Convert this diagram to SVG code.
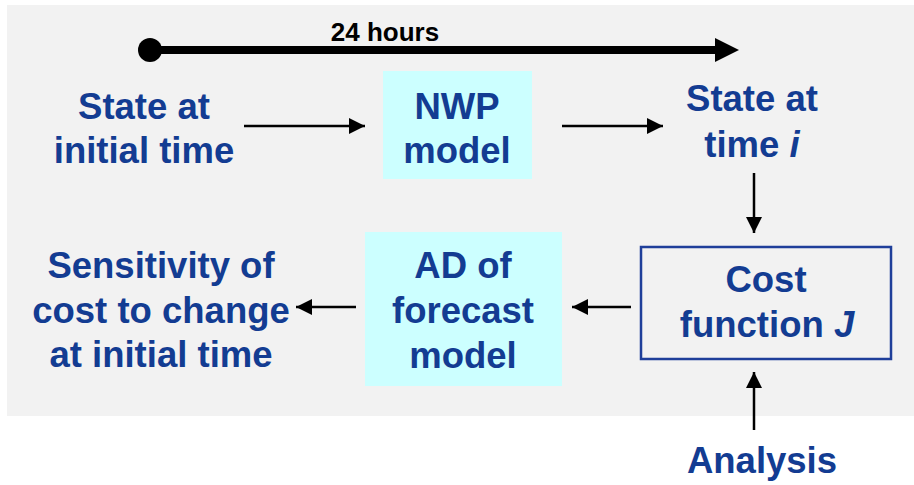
<svg xmlns="http://www.w3.org/2000/svg" width="914" height="485" viewBox="0 0 914 485">
  <defs>
    <style>
      .t { font-family: "Liberation Sans", Arial, sans-serif; font-weight: bold; font-size: 36.5px; fill: #133C92; text-anchor: middle; }
      .box { fill: #CCFFFF; stroke: none; }
      .cost { fill: none; stroke: #1F3F9A; stroke-width: 2.5; }
      .conn { stroke: #000; stroke-width: 2.5; fill: none; }
    </style>
    <marker id="ah" viewBox="0 0 16 16" refX="16" refY="8" markerUnits="userSpaceOnUse" markerWidth="16" markerHeight="16" orient="auto">
      <path d="M0,0 L16,8 L0,16 Z" fill="#000"/>
    </marker>
  </defs>

  <rect x="7" y="5" width="907" height="411" fill="#F2F2F2"/>

  <g id="timeline">
    <circle cx="150" cy="50" r="12" fill="#000"/>
    <line x1="150" y1="50" x2="716" y2="50" stroke="#000" stroke-width="8"/>
    <polygon points="715,38 739,50 715,62" fill="#000"/>
    <text x="385" y="41" font-family="Liberation Sans, Arial, sans-serif" font-weight="bold" font-size="26" fill="#000" text-anchor="middle">24 hours</text>
  </g>

  <g id="state-initial">
    <text class="t" x="144" y="119">State at</text>
    <text class="t" x="144" y="163">initial time</text>
  </g>

  <g id="nwp-model">
    <rect class="box" x="383" y="71" width="149" height="108"/>
    <text class="t" x="457" y="119">NWP</text>
    <text class="t" x="457" y="163">model</text>
  </g>

  <g id="state-time-i">
    <text class="t" x="752" y="111">State at</text>
    <text class="t" x="752" y="157">time <tspan font-style="italic">i</tspan></text>
  </g>

  <g id="cost-function">
    <rect class="cost" x="641" y="247" width="250" height="112"/>
    <text class="t" x="766" y="292">Cost</text>
    <text class="t" x="767" y="337">function <tspan font-style="italic">J</tspan></text>
  </g>

  <g id="ad-model">
    <rect class="box" x="365" y="232" width="197" height="154"/>
    <text class="t" x="463" y="278">AD of</text>
    <text class="t" x="463" y="323">forecast</text>
    <text class="t" x="463" y="368">model</text>
  </g>

  <g id="sensitivity">
    <text class="t" x="161" y="278">Sensitivity of</text>
    <text class="t" x="161" y="323">cost to change</text>
    <text class="t" x="161" y="367">at initial time</text>
  </g>

  <g id="analysis">
    <text class="t" x="762" y="473">Analysis</text>
  </g>

  <g id="connectors">
    <line class="conn" x1="244" y1="126" x2="365" y2="126" marker-end="url(#ah)"/>
    <line class="conn" x1="562" y1="126" x2="663" y2="126" marker-end="url(#ah)"/>
    <line class="conn" x1="754" y1="173" x2="754" y2="233" marker-end="url(#ah)"/>
    <line class="conn" x1="631" y1="307" x2="572" y2="307" marker-end="url(#ah)"/>
    <line class="conn" x1="356" y1="307" x2="296" y2="307" marker-end="url(#ah)"/>
    <line class="conn" x1="754" y1="430" x2="754" y2="372" marker-end="url(#ah)"/>
  </g>
</svg>
